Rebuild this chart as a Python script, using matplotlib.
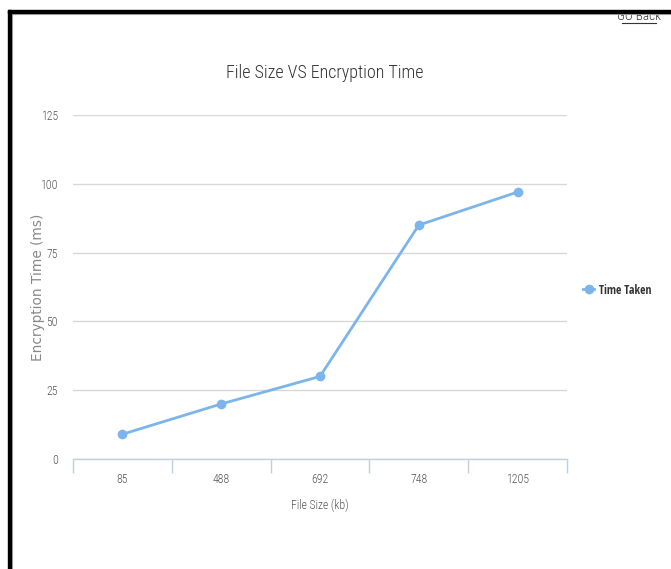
import matplotlib
matplotlib.use("Agg")
import matplotlib.pyplot as plt
from matplotlib.lines import Line2D
from matplotlib import font_manager
from matplotlib.font_manager import FontProperties

categories = ["85", "488", "692", "748", "1205"]
time_taken = [9, 20, 30, 85, 97]
y_ticks = [0, 25, 50, 75, 100, 125]
series_name = "Time Taken"


def wnum(w):
    try:
        return int(w)
    except (TypeError, ValueError):
        return {"light": 300, "normal": 400, "regular": 400, "book": 400, "medium": 500,
                "bold": 700}.get(str(w).lower(), 400)


def find_font(cands, weights):
    for n in cands:
        for w in weights:
            for f in font_manager.fontManager.ttflist:
                if f.name == n and wnum(f.weight) == w and f.style == "normal":
                    return f.fname
    return None


light_cands = ["Open Sans Condensed Light", "Open Sans Condensed", "Roboto Condensed",
               "PT Sans Narrow", "Archivo Narrow", "Fira Sans Condensed",
               "IBM Plex Sans Condensed", "Asap Condensed", "Encode Sans Condensed",
               "Liberation Sans Narrow"]
bold_cands = ["Open Sans Condensed", "Roboto Condensed", "PT Sans Narrow", "Archivo Narrow",
              "Fira Sans Condensed", "Liberation Sans Narrow"]
light_path = find_font(light_cands, [300, 400])
bold_path = find_font(bold_cands, [700, 600])


def lf(size):
    if light_path:
        return FontProperties(fname=light_path, size=size)
    return FontProperties(family="DejaVu Sans", size=size)


def bf(size):
    if bold_path:
        return FontProperties(fname=bold_path, size=size)
    return FontProperties(family="DejaVu Sans", weight="bold", size=size)


W, H = 671, 569
fig = plt.figure(figsize=(W / 100, H / 100), dpi=100)


def fx(px):
    return px / W


def fy(py):
    return 1 - py / H


ax = fig.add_axes([fx(73), fy(459), fx(567) - fx(73), fy(115) - fy(459)])
color = "#7cb5ec"
x = list(range(len(categories)))
ax.plot(x, time_taken, color=color, lw=2, marker="o", ms=7, markeredgewidth=0, zorder=3)
ax.set_xlim(-0.5, len(categories) - 0.5)
ax.set_ylim(0, 125)
ax.set_yticks(y_ticks)
ax.set_yticklabels([str(v) for v in y_ticks], fontproperties=lf(8.5), color="#555555")
ax.set_xticks(x)
ax.set_xticklabels(categories, fontproperties=lf(8.5), color="#555555")
ax.set_xticks([i - 0.5 for i in range(len(categories) + 1)], minor=True)
ax.tick_params(axis="x", which="major", length=0, pad=10)
ax.tick_params(axis="x", which="minor", length=10, color="#c0d0e0", width=1)
ax.tick_params(axis="y", length=0, pad=11)
ax.grid(axis="y", color="#d8d8d8", lw=1)
for s in ["top", "right", "left"]:
    ax.spines[s].set_visible(False)
ax.spines["bottom"].set_color("#c0d0e0")
ax.spines["bottom"].set_linewidth(1)
ax.set_axisbelow(True)

ax.set_xlabel("File Size (kb)", fontproperties=lf(8.5), color="#555555", labelpad=9)
fig.text(fx(38), fy(287), "Encryption Time (ms)", fontfamily="DejaVu Sans", fontsize=9.8,
         color="#888888", rotation=90, ha="center", va="center")

fig.text(fx(325), fy(73), "File Size VS Encryption Time", fontproperties=lf(13),
         color="#333333", ha="center", va="center")

# legend
leg = ax.legend([Line2D([], [], color=color, lw=2, marker="o", ms=7, markeredgewidth=0)],
                [series_name], loc="center left", bbox_to_anchor=(fx(572), fy(290)),
                bbox_transform=fig.transFigure, frameon=False, handlelength=1.0,
                handletextpad=0.4, prop=bf(8.5))
for t in leg.get_texts():
    t.set_color("#333333")

# page decoration: "GO Back" link and frame border
fig.text(fx(639), fy(17), "GO Back", fontproperties=lf(9.5),
         color="#333333", ha="center", va="center")
fig.add_artist(Line2D([fx(622), fx(656)], [fy(23), fy(23)], color="#333333", lw=0.8))
fig.add_artist(plt.Rectangle((fx(8), fy(13)), 1 - fx(8), fy(10) - fy(13),
                             transform=fig.transFigure, color="black", zorder=10))
fig.add_artist(plt.Rectangle((fx(8), 0), fx(11) - fx(8), fy(10),
                             transform=fig.transFigure, color="black", zorder=10))
fig.add_artist(Line2D([fx(11.5), 1], [fy(13.5), fy(13.5)], color="#bbbbbb", lw=0.8, zorder=9))
fig.add_artist(Line2D([fx(11.5), fx(11.5)], [0, fy(13.5)], color="#bbbbbb", lw=0.8, zorder=9))

fig.savefig("out.png", dpi=100)
